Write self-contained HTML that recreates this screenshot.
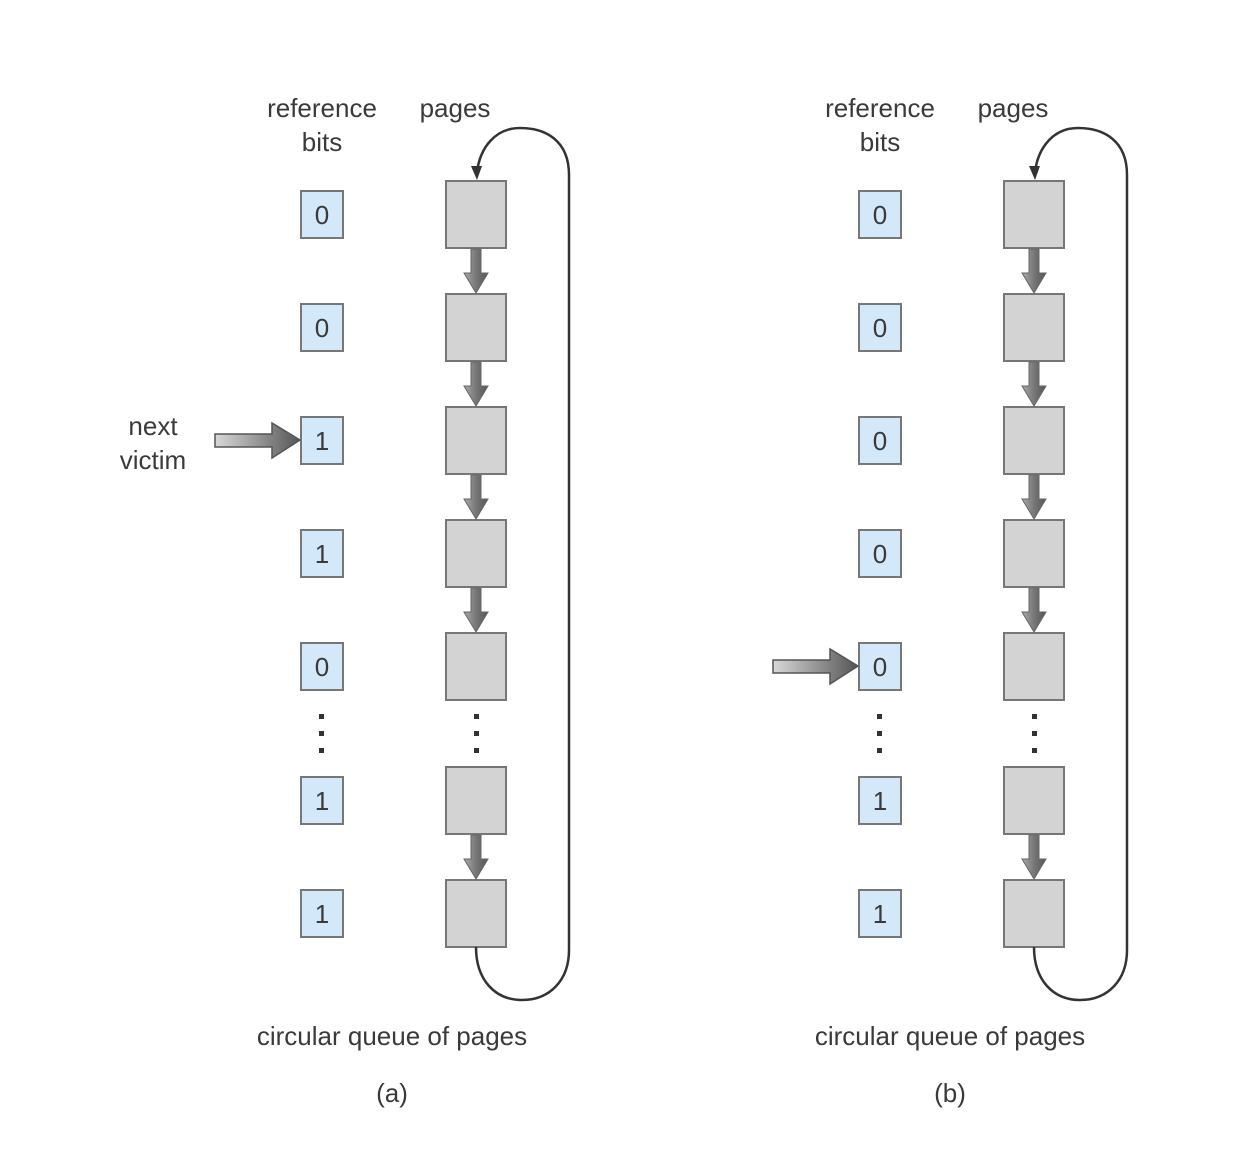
<!DOCTYPE html>
<html><head><meta charset="utf-8"><style>
html,body{margin:0;padding:0;background:#fff;}
svg text{font-family:"Liberation Sans",sans-serif;fill:#3a3a3a;}
</style></head><body>
<svg width="1242" height="1168" viewBox="0 0 1242 1168" xmlns="http://www.w3.org/2000/svg">
<defs>
<linearGradient id="gh" x1="0" y1="0" x2="1" y2="0">
<stop offset="0" stop-color="#d8d8d8"/><stop offset="1" stop-color="#555"/>
</linearGradient>
<linearGradient id="gv" x1="0" y1="0" x2="1" y2="0">
<stop offset="0" stop-color="#aaa"/><stop offset="0.5" stop-color="#777"/><stop offset="1" stop-color="#555"/>
</linearGradient>
<g id="panel">
<text x="322" y="117" font-size="26" text-anchor="middle">reference</text>
<text x="322" y="151" font-size="26" text-anchor="middle">bits</text>
<text x="455" y="117" font-size="26" text-anchor="middle">pages</text>
<g fill="#d3e8f8" stroke="#777" stroke-width="2">
<rect x="301" y="191" width="42" height="47"/>
<rect x="301" y="304" width="42" height="47"/>
<rect x="301" y="417" width="42" height="47"/>
<rect x="301" y="530" width="42" height="47"/>
<rect x="301" y="643" width="42" height="47"/>
<rect x="301" y="777" width="42" height="47"/>
<rect x="301" y="890" width="42" height="47"/>
</g>
<g fill="#d3d3d4" stroke="#777" stroke-width="2">
<rect x="446" y="181" width="60" height="67"/>
<rect x="446" y="294" width="60" height="67"/>
<rect x="446" y="407" width="60" height="67"/>
<rect x="446" y="520" width="60" height="67"/>
<rect x="446" y="633" width="60" height="67"/>
<rect x="446" y="767" width="60" height="67"/>
<rect x="446" y="880" width="60" height="67"/>
</g>
<g fill="url(#gv)" stroke="#666" stroke-width="1">
<path d="M471 249 h10 v24 h7 l-12 20 l-12 -20 h7 z"/>
<path d="M471 362 h10 v24 h7 l-12 20 l-12 -20 h7 z"/>
<path d="M471 475 h10 v24 h7 l-12 20 l-12 -20 h7 z"/>
<path d="M471 588 h10 v24 h7 l-12 20 l-12 -20 h7 z"/>
<path d="M471 835 h10 v24 h7 l-12 20 l-12 -20 h7 z"/>
</g>
<g fill="#333">
<rect x="319" y="714" width="5" height="5"/><rect x="319" y="731" width="5" height="5"/><rect x="319" y="748" width="5" height="5"/>
<rect x="474" y="714" width="5" height="5"/><rect x="474" y="731" width="5" height="5"/><rect x="474" y="748" width="5" height="5"/>
</g>
<path d="M569 950 V175 C569 140 545 128 520 128 C495 128 480 148 477 172" fill="none" stroke="#333" stroke-width="2.5"/>
<path d="M471 166 l6 14 l5 -14 z" fill="#333"/>
<path d="M476 947 C476 980 495 1000 522 1000 C550 1000 569 980 569 950" fill="none" stroke="#333" stroke-width="2.5"/>
<text x="392" y="1045" font-size="26" text-anchor="middle">circular queue of pages</text>
</g>
</defs>
<use href="#panel"/>
<use href="#panel" transform="translate(558,0)"/>
<g font-size="26" text-anchor="middle">
<text x="322" y="224">0</text><text x="322" y="337">0</text><text x="322" y="450">1</text><text x="322" y="563">1</text><text x="322" y="676">0</text><text x="322" y="810">1</text><text x="322" y="923">1</text>
<text x="880" y="224">0</text><text x="880" y="337">0</text><text x="880" y="450">0</text><text x="880" y="563">0</text><text x="880" y="676">0</text><text x="880" y="810">1</text><text x="880" y="923">1</text>
<text x="153" y="435">next</text><text x="153" y="469">victim</text>
<text x="392" y="1102">(a)</text><text x="950" y="1102">(b)</text>
</g>
<path d="M215 434 h57 v-11 l28 17 l-28 18 v-11 h-57 z" fill="url(#gh)" stroke="#555" stroke-width="1.5"/>
<path d="M773 660 h57 v-11 l28 17 l-28 18 v-11 h-57 z" fill="url(#gh)" stroke="#555" stroke-width="1.5"/>
</svg>
</body></html>
